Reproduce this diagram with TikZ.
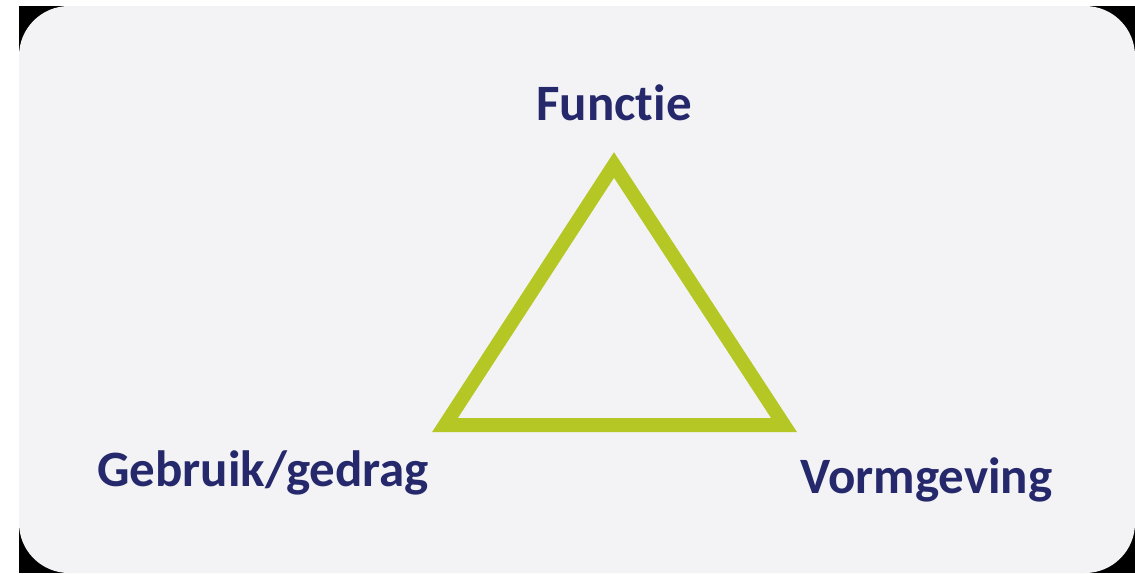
\documentclass[tikz,border=0pt]{standalone}
\usepackage{fontspec}
\setmainfont[Ligatures=NoCommon]{Carlito}
\definecolor{edgegreen}{RGB}{181,199,36}
\definecolor{textnavy}{RGB}{38,40,108}
\definecolor{panelgray}{RGB}{243,243,246}

\begin{document}
\begin{tikzpicture}[x=1pt,y=-1pt,
    tag/.style={text=textnavy,font=\bfseries\fontsize{51}{56}\selectfont,inner sep=0pt}]

    % Frame
    \useasboundingbox (0,0) rectangle (1135,573);
    \fill[white] (0,0) rectangle (1135,573);
    \fill[black] (19,6) rectangle (1135,573);
    \fill[panelgray,rounded corners=50pt] (19,6) rectangle (1135,573);

    % Corners
    \coordinate (top) at (614,165);
    \coordinate (left) at (445,425);
    \coordinate (right) at (784,425);

    % Edges
    \draw[edgegreen,line width=14pt,line join=miter] (top) -- (right) -- (left) -- cycle;

    % Labels
    \node[tag,anchor=base] (functie) at (614,120) {Functie};
    \node[tag,anchor=base west] (gebruik) at (97,486) {Gebruik/gedrag};
    \node[tag,anchor=base west] (vorm) at (800,493) {Vormgeving};

\end{tikzpicture}
\end{document}
